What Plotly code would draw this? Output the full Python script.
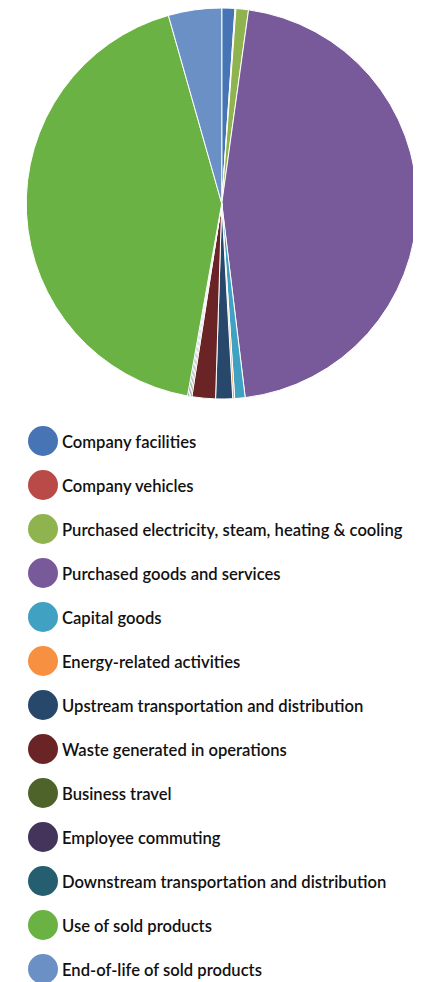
import plotly.graph_objects as go

categories = [
    "Company facilities",
    "Company vehicles",
    "Purchased electricity, steam, heating & cooling",
    "Purchased goods and services",
    "Capital goods",
    "Energy-related activities",
    "Upstream transportation and distribution",
    "Waste generated in operations",
    "Business travel",
    "Employee commuting",
    "Downstream transportation and distribution",
    "Use of sold products",
    "End-of-life of sold products",
]
shares = [1.08, 0.08, 1.03, 45.9, 0.86, 0.16, 1.4, 1.94, 0.12, 0.12, 0.12, 42.8, 4.4]
colors = [
    "#4674B5", "#BA4A48", "#8FB44F", "#785A9A", "#40A1C3", "#F79040",
    "#27476B", "#6B2425", "#4E6329", "#44335A", "#245E6F", "#6BB244", "#6A90C5",
]

# page body has an 8px margin; the figure is sized/positioned to compensate
OFF = 8
W, H = 421 - OFF, 982 - OFF
fig = go.Figure()
fig.add_trace(go.Pie(
    labels=categories, values=shares, sort=False, direction="clockwise",
    rotation=0, marker=dict(colors=colors, line=dict(color="white", width=1)),
    textinfo="none", showlegend=False,
    domain=dict(x=[(25.5 - OFF) / W, (418 - OFF) / W],
                y=[1 - (399 - OFF) / H, 1]),
))

row_y = [441 - OFF + 44 * i for i in range(len(categories))]
fig.add_trace(go.Scatter(
    x=[43 - OFF] * len(categories), y=row_y, mode="markers",
    marker=dict(size=30, color=colors, line=dict(width=0)),
    hoverinfo="skip", showlegend=False,
))
fig.add_trace(go.Scatter(
    x=[62 - OFF] * len(categories), y=[v + 2.5 for v in row_y], mode="text",
    text=categories, textposition="middle right",
    textfont=dict(family="Lato", size=16.6, color="#111111", weight=600),
    hoverinfo="skip", showlegend=False,
))
fig.update_xaxes(range=[0, W], visible=False, fixedrange=True)
fig.update_yaxes(range=[H, 0], visible=False, fixedrange=True)
fig.update_layout(
    width=W, height=H, margin=dict(l=0, r=0, t=0, b=0),
    paper_bgcolor="white", plot_bgcolor="white",
)
fig.write_html("out.html")
